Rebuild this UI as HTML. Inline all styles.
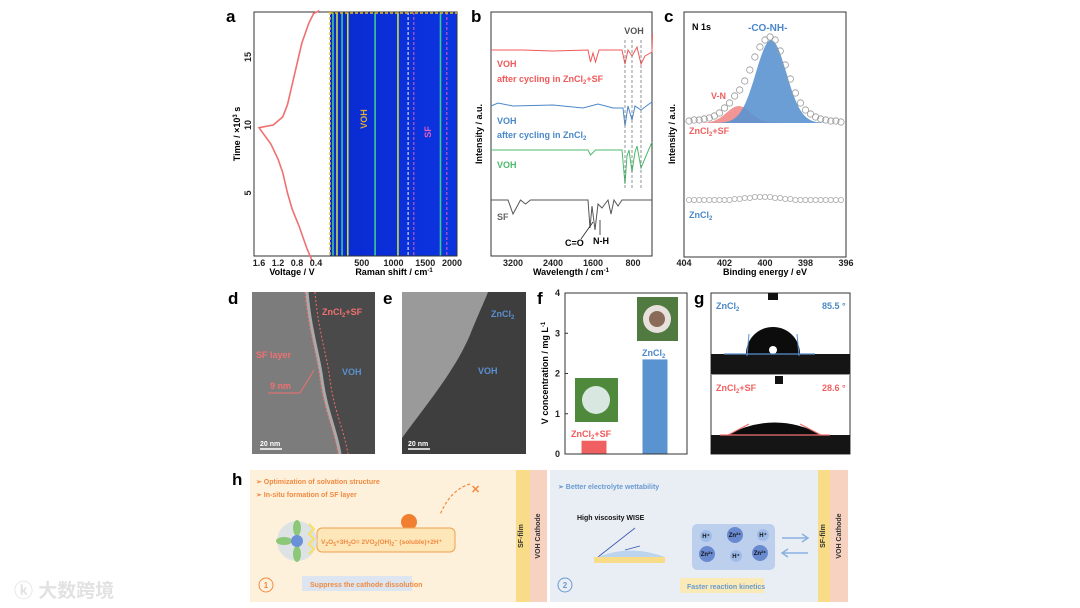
<!DOCTYPE html>
<html><head><meta charset="utf-8"><style>
html,body{margin:0;padding:0;background:#fff;width:1080px;height:608px;overflow:hidden}
svg{display:block;font-family:"Liberation Sans","Noto Sans CJK SC",sans-serif}
text{font-weight:bold}
</style></head><body>
<svg id="fig" width="1080" height="608" viewBox="0 0 1080 608">
<defs>
<linearGradient id="hcbg" x1="0" y1="0" x2="1" y2="0"><stop offset="0" stop-color="#0a2ad0"/><stop offset="1" stop-color="#0b34e0"/></linearGradient>
</defs>
<g font-size="17" fill="#000">
<text x="226" y="22">a</text><text x="471" y="22">b</text><text x="664" y="22">c</text>
<text x="228" y="304">d</text><text x="383" y="304">e</text><text x="537" y="304">f</text><text x="694" y="304">g</text><text x="232" y="485">h</text>
</g>

<g id="pa">
<rect x="330" y="12" width="127" height="244" fill="url(#hcbg)"/>
<g id="ramanLines"></g>
<rect x="254" y="12" width="203" height="244" fill="none" stroke="#333" stroke-width="1"/>
<line x1="330" y1="12" x2="330" y2="256" stroke="#e8c020" stroke-width="1.5" stroke-dasharray="3,2"/>
<line x1="330" y1="13" x2="457" y2="13" stroke="#e8c020" stroke-width="1.5" stroke-dasharray="3,2"/>
<path id="voltCurve" fill="none" stroke="#f07070" stroke-width="1.6"/>
<text x="367" y="119" font-size="9" fill="#e0b030" transform="rotate(-90 367 119)" text-anchor="middle">VOH</text>
<text x="431" y="132" font-size="9" fill="#e060c0" transform="rotate(-90 431 132)" text-anchor="middle">SF</text>
<g id="aTicks" font-size="9" fill="#222"></g>
<text x="292" y="275" font-size="9" text-anchor="middle">Voltage / V</text>
<text x="394" y="275" font-size="9" text-anchor="middle">Raman shift / cm<tspan font-size="6" dy="-3">-1</tspan></text>
<text x="240" y="134" font-size="9" text-anchor="middle" transform="rotate(-90 240 134)">Time / ×10<tspan font-size="6" dy="-3">3</tspan><tspan dy="3"> s</tspan></text>
</g>

<g id="pb">
<rect x="491" y="12" width="161" height="244" fill="none" stroke="#333"/>
<g id="ftir"></g>
<text x="634" y="34" font-size="9" fill="#555" text-anchor="middle">VOH</text>
<text x="497" y="67" font-size="9" fill="#f05858">VOH</text>
<text x="497" y="82" font-size="9" fill="#f05858">after cycling in ZnCl<tspan font-size="6" dy="2">2</tspan><tspan dy="-2">+SF</tspan></text>
<text x="497" y="124" font-size="9" fill="#4a88c8">VOH</text>
<text x="497" y="138" font-size="9" fill="#4a88c8">after cycling in ZnCl<tspan font-size="6" dy="2">2</tspan></text>
<text x="497" y="168" font-size="9" fill="#4cbb6c">VOH</text>
<text x="497" y="220" font-size="9" fill="#666">SF</text>
<text x="565" y="246" font-size="9">C=O</text><text x="593" y="244" font-size="9">N-H</text>
<path d="M581 239 L593 222 M600 235 L600 220" stroke="#222" stroke-width="0.8" fill="none"/>
<g id="bTicks" font-size="9" fill="#222"></g>
<text x="571" y="275" font-size="9" text-anchor="middle">Wavelength / cm<tspan font-size="6" dy="-3">-1</tspan></text>
<text x="482" y="134" font-size="9" text-anchor="middle" transform="rotate(-90 482 134)">Intensity / a.u.</text>
</g>

<g id="pc">
<rect x="684" y="12" width="162" height="245" fill="none" stroke="#333"/>
<g id="xps"></g>
<text x="692" y="30" font-size="9">N 1s</text>
<text x="748" y="31" font-size="10" fill="#4a88c8">-CO-NH-</text>
<text x="711" y="99" font-size="9" fill="#f06060">V-N</text>
<text x="689" y="134" font-size="9" fill="#f06060">ZnCl<tspan font-size="6" dy="2">2</tspan><tspan dy="-2">+SF</tspan></text>
<text x="689" y="218" font-size="9" fill="#4a88c8">ZnCl<tspan font-size="6" dy="2">2</tspan></text>
<g id="cTicks" font-size="9" fill="#222"></g>
<text x="765" y="275" font-size="9" text-anchor="middle">Binding energy / eV</text>
<text x="675" y="134" font-size="9" text-anchor="middle" transform="rotate(-90 675 134)">Intensity / a.u.</text>
</g>

<g>
<rect x="252" y="292" width="123" height="162" fill="#7c7c7c"/>
<path d="M307 292 C310 330 320 360 322 380 C326 410 336 430 340 454 L375 454 L375 292 Z" fill="#4a4a4a"/>
<path d="M307 292 C310 330 320 360 322 380 C326 410 336 430 340 454" fill="none" stroke="#aaa" stroke-width="3"/>
<path d="M315 292 C318 330 328 360 330 380 C334 410 344 430 348 454" fill="none" stroke="#f06a6a" stroke-width="1" stroke-dasharray="2,2"/>
<path d="M305 292 C308 330 318 360 320 380 C324 410 334 430 338 454" fill="none" stroke="#f06a6a" stroke-width="1" stroke-dasharray="2,2"/>
<text x="322" y="315" font-size="9" fill="#f07070">ZnCl<tspan font-size="6" dy="2">2</tspan><tspan dy="-2">+SF</tspan></text>
<text x="256" y="358" font-size="9" fill="#f07070">SF layer</text>
<text x="342" y="375" font-size="9" fill="#5a90d0">VOH</text>
<text x="270" y="389" font-size="9" fill="#f07070">9 nm</text>
<path d="M268 393 L300 393 L314 370" stroke="#f07070" fill="none" stroke-width="1"/>
<text x="260" y="446" font-size="7" fill="#fff">20 nm</text><line x1="260" y1="449" x2="282" y2="449" stroke="#fff" stroke-width="1.5"/>
</g>
<g>
<rect x="402" y="292" width="124" height="162" fill="#9a9a9a"/>
<path d="M488 292 L526 292 L526 454 L402 454 L402 438 C430 400 455 370 470 335 C478 315 485 300 488 292 Z" fill="#3e3e3e"/>
<text x="491" y="317" font-size="9" fill="#5a90d0">ZnCl<tspan font-size="6" dy="2">2</tspan></text>
<text x="478" y="374" font-size="9" fill="#5a90d0">VOH</text>
<text x="408" y="446" font-size="7" fill="#fff">20 nm</text><line x1="408" y1="449" x2="430" y2="449" stroke="#fff" stroke-width="1.5"/>
</g>

<g id="pf">
<g id="fBars"></g>
<rect x="565" y="293" width="122" height="161" fill="none" stroke="#333"/>
<rect x="575" y="378" width="43" height="44" fill="#4f8a3c"/><circle cx="596" cy="400" r="14" fill="#d8e8e0"/>
<rect x="637" y="297" width="41" height="44" fill="#507a40"/><circle cx="657" cy="319" r="14" fill="#e8e0dc"/><circle cx="657" cy="319" r="8" fill="#8a6a58"/>
<text x="571" y="437" font-size="9" fill="#f05858">ZnCl<tspan font-size="6" dy="2">2</tspan><tspan dy="-2">+SF</tspan></text>
<text x="642" y="356" font-size="9" fill="#4a88c8">ZnCl<tspan font-size="6" dy="2">2</tspan></text>
<g id="fTicks" font-size="9" fill="#222"></g>
<text x="548" y="373" font-size="9" text-anchor="middle" transform="rotate(-90 548 373)">V concentration / mg L<tspan font-size="6" dy="-3">-1</tspan></text>
</g>

<g>
<rect x="711" y="293" width="139" height="161" fill="#fff" stroke="#333"/>
<rect x="711" y="354" width="139" height="20" fill="#151515"/>
<rect x="768" y="293" width="10" height="7" fill="#111"/>
<path d="M746 354 A27 27 0 0 1 800 354 Z" fill="#0c0c0c"/><circle cx="773" cy="350" r="4" fill="#fff"/>
<line x1="724" y1="354" x2="815" y2="354" stroke="#5a90d0" stroke-width="1.2"/>
<line x1="749" y1="334" x2="747" y2="356" stroke="#5a90d0"/><line x1="797" y1="334" x2="799" y2="356" stroke="#5a90d0"/>
<text x="716" y="309" font-size="9" fill="#4a88c8">ZnCl<tspan font-size="6" dy="2">2</tspan></text>
<text x="822" y="309" font-size="9" fill="#4a88c8">85.5 °</text>
<rect x="711" y="374" width="139" height="1" fill="#999"/>
<rect x="775" y="376" width="8" height="8" fill="#111"/>
<rect x="711" y="435" width="139" height="19" fill="#151515"/>
<path d="M727 435 Q775 410 822 435 Z" fill="#0c0c0c"/>
<line x1="720" y1="435" x2="830" y2="435" stroke="#f07070" stroke-width="1.2"/>
<line x1="728" y1="435" x2="749" y2="424" stroke="#f07070"/><line x1="800" y1="424" x2="821" y2="435" stroke="#f07070"/>
<text x="716" y="391" font-size="9" fill="#f06060">ZnCl<tspan font-size="6" dy="2">2</tspan><tspan dy="-2">+SF</tspan></text>
<text x="822" y="391" font-size="9" fill="#f06060">28.6 °</text>
</g>

<g>
<rect x="250" y="470" width="268" height="132" fill="#fdf1dc"/>
<rect x="516" y="470" width="14" height="132" fill="#f8dc88"/>
<rect x="530" y="470" width="17" height="132" fill="#f7d2c0"/>
<rect x="550" y="470" width="268" height="132" fill="#e9eef5"/>
<rect x="818" y="470" width="12" height="132" fill="#f8dc88"/>
<rect x="830" y="470" width="18" height="132" fill="#f7d2c0"/>
<text x="256" y="484" font-size="7" fill="#f08a40">➢  Optimization of solvation structure</text>
<text x="256" y="497" font-size="7" fill="#f08a40">➢  In-situ formation of SF layer</text>
<path d="M470 484 Q450 490 440 515" stroke="#f08a40" stroke-dasharray="3,2" fill="none" stroke-width="1.2"/>
<text x="471" y="493" font-size="11" fill="#f08a40">✕</text>
<circle cx="409" cy="522" r="8" fill="#f08030"/>
<rect x="317" y="528" width="138" height="24" rx="5" fill="#fde6b8" stroke="#f0a050"/>
<text x="321" y="544" font-size="6.5" fill="#f08a40">V<tspan font-size="5" dy="2">2</tspan><tspan dy="-2">O</tspan><tspan font-size="5" dy="2">5</tspan><tspan dy="-2">+3H</tspan><tspan font-size="5" dy="2">2</tspan><tspan dy="-2">O= 2VO</tspan><tspan font-size="5" dy="2">2</tspan><tspan dy="-2">(OH)</tspan><tspan font-size="5" dy="2">2</tspan><tspan dy="-2">⁻ (soluble)+2H⁺</tspan></text>
<circle cx="297" cy="541" r="20" fill="#dde2e4"/>
<ellipse cx="297" cy="528" rx="4" ry="8" fill="#8cc878"/><ellipse cx="297" cy="554" rx="4" ry="8" fill="#8cc878"/>
<ellipse cx="284" cy="541" rx="8" ry="4" fill="#8cc878"/>
<circle cx="297" cy="541" r="6" fill="#6a90d8"/>
<path d="M309 524 l5 5 l-5 5 l5 5 l-5 5 l5 5 l-5 5" stroke="#f8e060" fill="none" stroke-width="2"/>
<circle cx="266" cy="585" r="7" fill="none" stroke="#f08a40"/><text x="266" y="588" font-size="8" fill="#f08a40" text-anchor="middle">1</text>
<rect x="302" y="576" width="110" height="15" fill="#dde6f0"/>
<text x="310" y="587" font-size="7" fill="#f08a40">Suppress the cathode dissolution</text>
<text x="523" y="536" font-size="7" fill="#333" transform="rotate(-90 523 536)" text-anchor="middle">SF-film</text>
<text x="540" y="536" font-size="7" fill="#333" transform="rotate(-90 540 536)" text-anchor="middle">VOH Cathode</text>
<text x="825" y="536" font-size="7" fill="#333" transform="rotate(-90 825 536)" text-anchor="middle">SF-film</text>
<text x="841" y="536" font-size="7" fill="#333" transform="rotate(-90 841 536)" text-anchor="middle">VOH Cathode</text>
<text x="558" y="489" font-size="7" fill="#6a9ad0">➢  Better electrolyte wettability</text>
<text x="577" y="520" font-size="7" fill="#111">High viscosity WISE</text>
<path d="M598 557 L635 528" stroke="#3a5ab0" stroke-width="0.8"/>
<path d="M598 557 Q630 544 665 557 Z" fill="#bcd4ee"/>
<path d="M625 550 L640 546" stroke="#3a5ab0" stroke-width="0.8"/>
<rect x="594" y="557" width="71" height="6" fill="#f8dc88"/>
<rect x="692" y="524" width="83" height="46" rx="5" fill="#bcd0ee"/>
<g font-size="6" fill="#111" text-anchor="middle">
<circle cx="706" cy="536" r="6" fill="#9fbce8"/><text x="706" y="538">H⁺</text>
<circle cx="735" cy="535" r="8" fill="#6a8ad0"/><text x="735" y="537">Zn²⁺</text>
<circle cx="763" cy="535" r="6" fill="#9fbce8"/><text x="763" y="537">H⁺</text>
<circle cx="707" cy="554" r="8" fill="#6a8ad0"/><text x="707" y="556">Zn²⁺</text>
<circle cx="736" cy="556" r="6" fill="#9fbce8"/><text x="736" y="558">H⁺</text>
<circle cx="760" cy="553" r="8" fill="#6a8ad0"/><text x="760" y="555">Zn²⁺</text>
</g>
<path d="M782 538 L808 538 M802 534 L808 538 L802 542" stroke="#8ab0e0" stroke-width="1.5" fill="none"/>
<path d="M808 553 L782 553 M788 549 L782 553 L788 557" stroke="#8ab0e0" stroke-width="1.5" fill="none"/>
<circle cx="565" cy="585" r="7" fill="none" stroke="#6a9ad0"/><text x="565" y="588" font-size="8" fill="#6a9ad0" text-anchor="middle">2</text>
<rect x="680" y="578" width="84" height="15" fill="#f9eab8"/>
<text x="687" y="589" font-size="7" fill="#6a9ad0">Faster reaction kinetics</text>
</g>
<text x="14" y="597" font-size="19" fill="#e2e2e2">ⓚ 大数跨境</text>
</svg>
<script>
const NS='http://www.w3.org/2000/svg';
function el(tag,attrs,parent){const e=document.createElementNS(NS,tag);for(const k in attrs)e.setAttribute(k,attrs[k]);parent.appendChild(e);return e;}
const voltageVals=[0.48,0.6,0.75,0.9,1.0,1.1,1.2,1.35,1.6,1.3,1.1,1.0,0.9,0.8,0.7,0.55,0.45,0.33];
const timeVals=[0.0,1.0,2.5,3.8,5.0,6.5,7.5,8.6,9.8,10.0,10.6,11.5,13.0,14.5,16.0,17.5,18.2,18.4];
const voltTicks=[1.6,1.2,0.8,0.4];
const timeTicks=[5,10,15];
const ramanTickLabels=[500,1000,1500,2000];
const ramanPeaks=[47,110,190,280,710,1070,1740];
const vx=v=>259+(1.6-v)*47.5, ty=t=>261-t*13.6;
const rx=r=>330+r*0.0635;
let d='';voltageVals.forEach((v,i)=>{d+=(i?'L':'M')+vx(v)+' '+ty(timeVals[i]);});
const vc=document.getElementById('voltCurve');vc.setAttribute('d',d);
const rl=document.getElementById('ramanLines');
ramanPeaks.forEach((p,i)=>{const l=el('line',{x1:rx(p),x2:rx(p),y1:12,y2:256,stroke:i%2?'#c8e040':'#40c890','stroke-width':1.6},rl);

});
[[1230,'#fff'],[1320,'#e060c0'],[1840,'#e060c0']].forEach(a=>{el('line',{x1:rx(a[0]),x2:rx(a[0]),y1:12,y2:256,stroke:a[1],'stroke-width':1,'stroke-dasharray':'3,2'},rl);});
const at=document.getElementById('aTicks');
voltTicks.forEach(v=>{const t=el('text',{x:vx(v),y:266,'text-anchor':'middle'},at);t.textContent=v.toFixed(1);});
ramanTickLabels.forEach(r=>{const t=el('text',{x:rx(r)+(r===2000?-5:0),y:266,'text-anchor':'middle'},at);t.textContent=r;});
timeTicks.forEach(v=>{const t=el('text',{x:251,y:ty(v),'text-anchor':'middle',transform:`rotate(-90 251 ${ty(v)})`},at);t.textContent=v;});

const ftirRed=[[3640,0],[3000,0],[2400,-1],[1700,0],[1650,-12],[1600,-3],[1550,-12],[1480,0],[1020,0],[960,-14],[900,0],[820,-6],[720,3],[640,-14],[560,-6],[420,-2],[410,16]];
const ftirBlue=[[3640,0],[3500,3],[3200,0],[2400,1],[1800,-2],[1500,2],[1200,-2],[1000,-2],[960,-20],[900,0],[820,-14],[760,0],[640,-4],[480,2],[420,4]];
const ftirGreen=[[3640,0],[2400,0],[1700,0],[1650,-5],[1550,0],[1020,0],[960,-34],[920,-6],[880,0],[820,-22],[760,-2],[720,4],[640,-18],[540,-6],[420,8]];
const ftirBlack=[[3640,0],[3300,0],[3200,-14],[3050,0],[2950,-4],[2850,0],[2400,0],[1700,0],[1660,-28],[1620,-6],[1560,-30],[1500,-4],[1420,-8],[1300,0],[1240,-14],[1180,0],[1100,-6],[1020,0],[420,0]];
const ftirBase=[50,106,150,200];
const wx=w=>491+(3640-w)*0.05;
const fg=document.getElementById('ftir');
[[ftirRed,'#f05858'],[ftirBlue,'#4a88c8'],[ftirGreen,'#4cbb6c'],[ftirBlack,'#555']].forEach((s,k)=>{let p='';s[0].forEach((pt,i)=>{p+=(i?'L':'M')+wx(pt[0]).toFixed(1)+' '+(ftirBase[k]-pt[1])});
const e=el('path',{d:p,fill:'none',stroke:s[1],'stroke-width':1},fg);

});
[960,820,640].forEach(w=>el('line',{x1:wx(w),x2:wx(w),y1:40,y2:190,stroke:'#777','stroke-dasharray':'3,2','stroke-width':0.8},fg));
const bTickLabels=[3200,2400,1600,800];
const bt=document.getElementById('bTicks');
bTickLabels.forEach(w=>{const t=el('text',{x:wx(w),y:266,'text-anchor':'middle'},bt);t.textContent=w;});

const beVals=[403.75,403.5,403.25,403,402.75,402.5,402.25,402,401.75,401.5,401.25,401,400.75,400.5,400.25,400,399.75,399.5,399.25,399,398.75,398.5,398.25,398,397.75,397.5,397.25,397,396.75,396.5,396.25];
const sfIntensity=[2,3,3,4,5,7,10,15,20,27,33,42,53,66,76,83,86,83,72,58,44,30,20,13,9,6,4,3,2,2,1];
const znIntensity=[0,0,0,0,0,0,0,0,0,1,1,2,2,3,3,3,3,2,2,1,1,0,0,0,0,0,0,0,0,0,0];
const peakCenters=[399.7,401.3], peakHeights=[83,17], peakWidths=[0.75,0.6];
const bx=b=>684+(404-b)*20.25;
const cg=document.getElementById('xps');
[[1,'#f08a8a'],[0,'#5a94d0']].forEach(pk=>{const i=pk[0];let p='M'+bx(403.5)+' 123';for(let b=403.5;b>=396.5;b-=0.1){const h=peakHeights[i]*Math.exp(-Math.pow(b-peakCenters[i],2)/(2*peakWidths[i]*peakWidths[i]));p+='L'+bx(b).toFixed(1)+' '+(123-h).toFixed(1);}p+='Z';
const e=el('path',{d:p,fill:pk[1],opacity:0.9},cg);

});
beVals.forEach((b,i)=>{const c=el('circle',{cx:bx(b),cy:123-sfIntensity[i],r:3.2,fill:'none',stroke:'#999','stroke-width':0.8},cg);


const c2=el('circle',{cx:bx(b),cy:200-znIntensity[i],r:2.6,fill:'none',stroke:'#aaa','stroke-width':0.8},cg);

});
const cTickLabels=[404,402,400,398,396];
const ct=document.getElementById('cTicks');
cTickLabels.forEach(b=>{const t=el('text',{x:bx(b),y:266,'text-anchor':'middle'},ct);t.textContent=b;});

const fCategories=['ZnCl2+SF','ZnCl2'];
const fValues=[0.33,2.35];
const fTicks=[0,1,2,3,4];
const fy=v=>454-v*40.25;
const fbx=[594,655];
const fb=document.getElementById('fBars');
fValues.forEach((v,i)=>{const r=el('rect',{x:fbx[i]-12.5,y:fy(v),width:25,height:454-fy(v),fill:i?'#5a94d0':'#f06060'},fb);

});
const ft=document.getElementById('fTicks');
fTicks.forEach(v=>{const t=el('text',{x:560,y:fy(v)+3,'text-anchor':'end'},ft);t.textContent=v;el('line',{x1:565,x2:568,y1:fy(v),y2:fy(v),stroke:'#333'},ft);});
</script>
</body></html>
